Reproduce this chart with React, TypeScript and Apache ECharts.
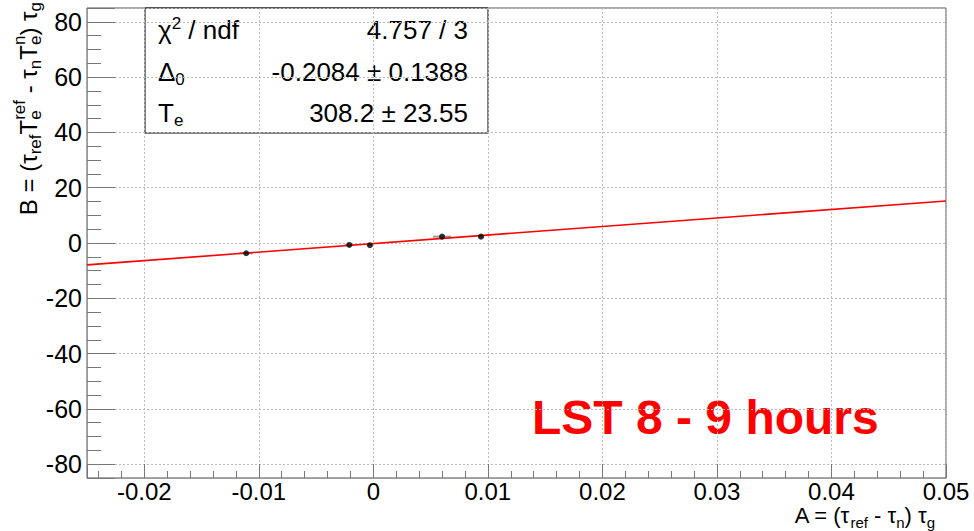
import { useEffect, useRef } from 'react';
import * as echarts from 'echarts';

const FONT = 'Liberation Sans';

// Measured points: A on x, B on y, with the horizontal uncertainty on A
const aValues = [-0.0111, -0.0021, -0.0003, 0.006, 0.0094];
const bValues = [-3.7, -0.7, -0.8, 2.3, 2.3];
const aErrors = [0.0006, 0.0004, 0.0002, 0.0008, 0.00025];

// Straight-line fit B = Te * A + Delta0
const fitTe = 308.2;
const fitTeErr = 23.55;
const fitDelta0 = -0.2084;
const fitDelta0Err = 0.1388;
const chi2 = 4.757;
const ndf = 3;

const xRange = [-0.025, 0.05];
const yRange = [-85, 85];

const periodLabel = 'LST 8 - 9 hours';

// Axis titles written as runs of normal text, subscripts, superscripts and
// stacked sub/superscript pairs (TLatex style).
type Run = { t: string; k: 'm' | 'sub' | 'sup' | 'stack'; up?: string };
const xTitleRuns: Run[] = [
  { t: 'A = (τ', k: 'm' },
  { t: 'ref', k: 'sub' },
  { t: ' - τ', k: 'm' },
  { t: 'n', k: 'sub' },
  { t: ') τ', k: 'm' },
  { t: 'g', k: 'sub' },
];
const yTitleRuns: Run[] = [
  { t: 'B = (τ', k: 'm' },
  { t: 'ref', k: 'sub' },
  { t: 'T', k: 'm' },
  { t: 'e', k: 'stack', up: 'ref' },
  { t: ' - τ', k: 'm' },
  { t: 'n', k: 'sub' },
  { t: 'T', k: 'm' },
  { t: 'e', k: 'stack', up: 'n' },
  { t: ') τ', k: 'm' },
  { t: 'g', k: 'sub' },
];

function buildRuns(runs: Run[], mainSize: number, scriptSize: number, subDy: number, supDy: number) {
  const ctx = document.createElement('canvas').getContext('2d')!;
  const measure = (s: string, size: number) => {
    ctx.font = `${size}px "${FONT}"`;
    return ctx.measureText(s).width;
  };
  const items: { text: string; x: number; dy: number; size: number }[] = [];
  let x = 0;
  for (const r of runs) {
    if (r.k === 'm') {
      items.push({ text: r.t, x, dy: 0, size: mainSize });
      x += measure(r.t, mainSize);
    } else if (r.k === 'sub' || r.k === 'sup') {
      items.push({ text: r.t, x, dy: r.k === 'sub' ? subDy : supDy, size: scriptSize });
      x += measure(r.t, scriptSize);
    } else {
      const up = r.up || '';
      items.push({ text: r.t, x, dy: subDy, size: scriptSize });
      items.push({ text: up, x, dy: supDy, size: scriptSize });
      x += Math.max(measure(r.t, scriptSize), measure(up, scriptSize));
    }
  }
  // right end of the title sits at local x = 0
  return items.map((it) => ({
    type: 'text',
    x: it.x - x,
    y: it.dy,
    style: {
      text: it.text,
      fontSize: it.size,
      fontFamily: FONT,
      fill: '#000',
      align: 'left',
      verticalAlign: 'middle',
      textAlign: 'left',
      textVerticalAlign: 'middle',
    },
  }));
}

export default function App() {
  const ref = useRef<HTMLDivElement>(null);

  useEffect(() => {
    document.body.style.margin = '0';
    const chart = echarts.init(ref.current!, null, { renderer: 'svg' });

    const points = aValues.map((a, i) => [a, bValues[i], aErrors[i]]);
    const fitLine = xRange.map((a) => [a, fitTe * a + fitDelta0]);

    const scriptBase = { fontFamily: FONT };
    const boxRich = {
      m: { ...scriptBase, fontSize: 26 },
      sup: { ...scriptBase, fontSize: 17, padding: [0, 0, 14, 0] },
      sub: { ...scriptBase, fontSize: 17, padding: [14, 0, 0, 0] },
    };

    const boxLeft = 145;
    const boxTop = 8;
    const boxW = 343;
    const boxH = 125;
    const rowY = [30, 72, 113];
    const leftX = 158;
    const rightX = 468;

    const rowTexts: [string, string][] = [
      ['{m|χ}{sup|2}{m| / ndf}', `${chi2} / ${ndf}`],
      ['{m|Δ}{sub|0}', `${fitDelta0} ± ${fitDelta0Err}`],
      ['{m|T}{sub|e}', `${fitTe} ± ${fitTeErr}`],
    ];

    const boxChildren: any[] = [
      {
        type: 'rect',
        shape: { x: boxLeft, y: boxTop, width: boxW, height: boxH },
        style: { fill: '#fff', stroke: '#000', lineWidth: 1 },
      },
    ];
    rowTexts.forEach(([lhs, rhs], i) => {
      boxChildren.push({
        type: 'text',
        x: leftX,
        y: rowY[i],
        style: {
          text: lhs,
          fontSize: 26,
          fontFamily: FONT,
          fill: '#000',
          align: 'left',
          verticalAlign: 'middle',
          textAlign: 'left',
          textVerticalAlign: 'middle',
          rich: boxRich,
        },
      });
      boxChildren.push({
        type: 'text',
        x: rightX,
        y: rowY[i],
        style: {
          text: rhs,
          fontSize: 26,
          fontFamily: FONT,
          fill: '#000',
          align: 'right',
          verticalAlign: 'middle',
          textAlign: 'right',
          textVerticalAlign: 'middle',
        },
      });
    });

    chart.setOption({
      animation: false,
      backgroundColor: '#fff',
      grid: {
        left: 87,
        right: 28,
        top: 8,
        bottom: 53,
        show: true,
        borderColor: '#555',
        borderWidth: 1,
      },
      xAxis: {
        type: 'value',
        min: xRange[0],
        max: xRange[1],
        splitNumber: 7,
        axisLine: { show: true, onZero: false, lineStyle: { color: '#999', width: 1 } },
        axisTick: { show: true, inside: true, length: 14, lineStyle: { color: '#777' } },
        minorTick: { show: true, splitNumber: 5, length: 7, lineStyle: { color: '#777' } },
        splitLine: { show: true, lineStyle: { color: '#bbb', type: [2, 2] } },
        axisLabel: {
          fontSize: 24,
          fontFamily: FONT,
          color: '#000',
          margin: 1,
          showMinLabel: false,
          showMaxLabel: true,
        },
      },
      yAxis: {
        type: 'value',
        min: yRange[0],
        max: yRange[1],
        splitNumber: 8,
        axisLine: { show: true, onZero: false, lineStyle: { color: '#999', width: 1 } },
        axisTick: { show: true, inside: true, length: 28, lineStyle: { color: '#777' } },
        minorTick: { show: true, splitNumber: 4, length: 14, lineStyle: { color: '#777' } },
        splitLine: { show: true, lineStyle: { color: '#bbb', type: [2, 2] } },
        axisLabel: {
          fontSize: 25,
          fontFamily: FONT,
          color: '#000',
          margin: 5,
          showMinLabel: false,
          showMaxLabel: false,
        },
      },
      series: [
        {
          type: 'custom',
          data: points,
          z: 3,
          renderItem: (_params: any, api: any) => {
            const a = api.value(0);
            const b = api.value(1);
            const e = api.value(2);
            const p1 = api.coord([a - e, b]);
            const p2 = api.coord([a + e, b]);
            return {
              type: 'line',
              shape: { x1: p1[0], y1: p1[1], x2: p2[0], y2: p2[1] },
              style: { stroke: '#999', lineWidth: 2 },
            };
          },
        },
        {
          type: 'line',
          data: fitLine,
          z: 4,
          symbol: 'none',
          lineStyle: { color: '#ff0000', width: 1.6 },
        },
        {
          type: 'scatter',
          data: points.map((p) => [p[0], p[1]]),
          z: 5,
          symbol: 'circle',
          symbolSize: 6,
          itemStyle: { color: '#000' },
        },
      ],
      graphic: [
        { type: 'group', children: boxChildren },
        {
          type: 'group',
          x: 935,
          y: 515,
          children: buildRuns(xTitleRuns, 22, 15, 7, -8),
        },
        {
          type: 'group',
          x: 28,
          y: 2,
          rotation: Math.PI / 2,
          children: buildRuns(yTitleRuns, 24, 17, 7, -9),
        },
        {
          type: 'text',
          x: 532,
          y: 417,
          style: {
            text: periodLabel,
            fontSize: 48,
            fontWeight: 'bold',
            fontFamily: FONT,
            fill: '#ff0000',
            align: 'left',
            verticalAlign: 'middle',
            textAlign: 'left',
            textVerticalAlign: 'middle',
          },
        },
      ],
    });

    return () => chart.dispose();
  }, []);

  return <div ref={ref} style={{ width: 974, height: 531 }} />;
}
